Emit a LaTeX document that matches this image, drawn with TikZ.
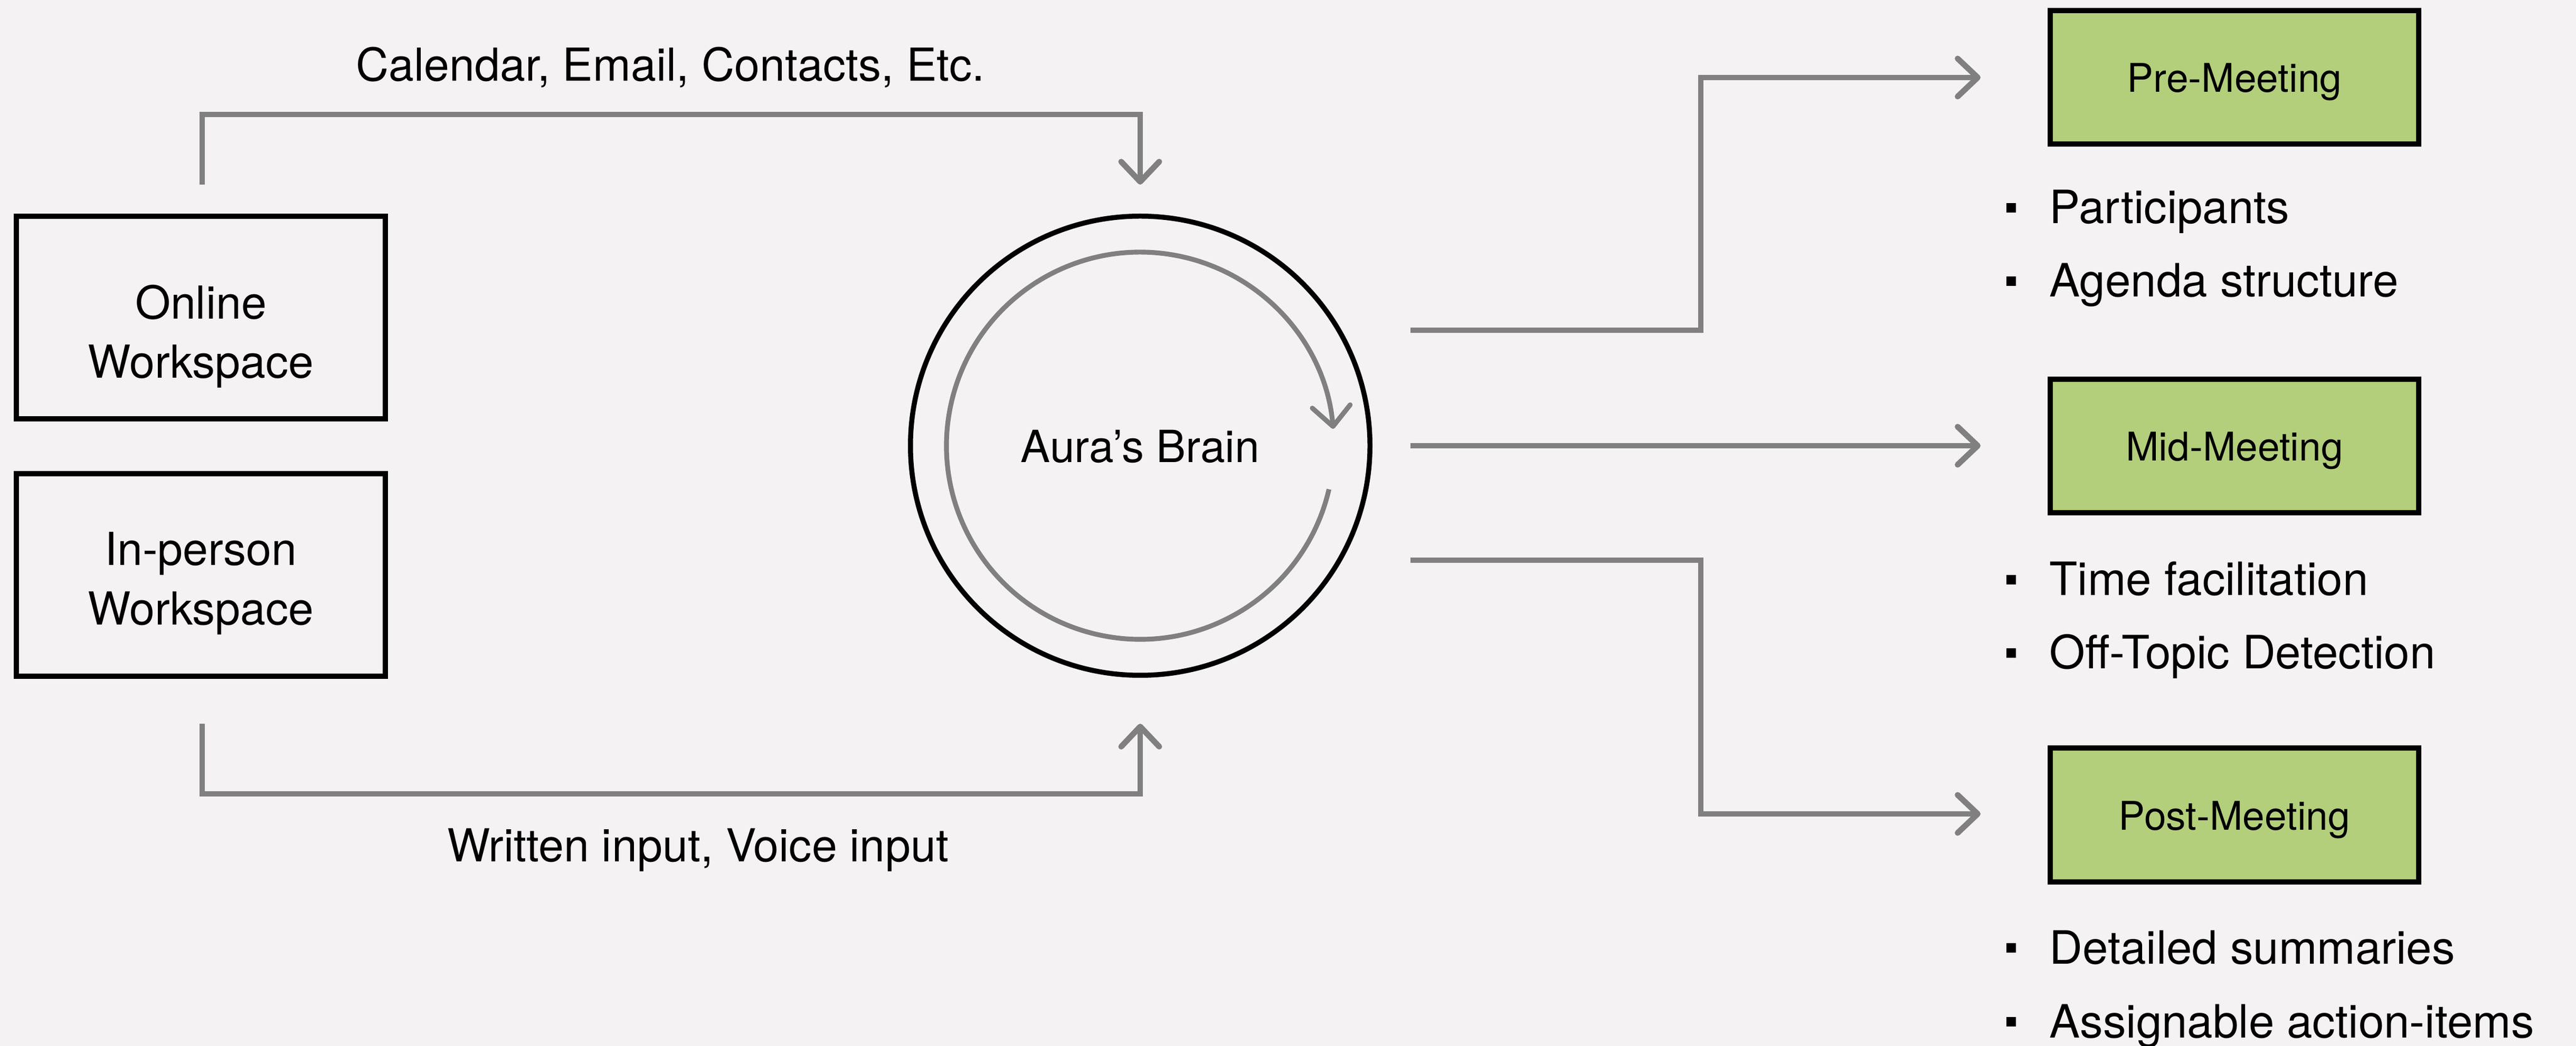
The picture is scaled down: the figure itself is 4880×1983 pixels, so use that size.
\documentclass[tikz,border=0pt]{standalone}
\usepackage{fontspec}
\setmainfont{TeX Gyre Heros}
\usetikzlibrary{arrows.meta}
\definecolor{bgc}{RGB}{244,242,243}
\definecolor{linegray}{RGB}{128,128,128}
\definecolor{boxgreen}{RGB}{179,207,123}
\newcommand\myitem[1]{\rule[0.21cm]{0.18cm}{0.18cm}\hspace{0.64cm}#1}
\begin{document}
\begin{tikzpicture}[x=0.01cm,y=0.01cm,
  wsbox/.style={draw=black, line width=2.85pt, fill=bgc, minimum width=6.99cm, minimum height=3.84cm, inner sep=0pt},
  phasebox/.style={draw=black, line width=2.85pt, fill=boxgreen, minimum width=6.98cm, minimum height=2.53cm, inner sep=0pt, font=\fontsize{21.3}{25}\selectfont, text height=0.56cm, text depth=0pt},
  brainnode/.style={circle, draw=black, line width=2.7pt, minimum size=8.7cm, inner sep=0pt, font=\fontsize{23.9}{28}\selectfont, text height=0.62cm, text depth=0pt},
  lbl/.style={font=\fontsize{24.5}{31.9}\selectfont, align=center, inner sep=0pt},
  tipstyle/.style={-{Straight Barb[length=0.38cm,width=0.72cm,round]}},
  conn/.style={draw=linegray, line width=3.1pt, tipstyle},
  bulletitem/.style={anchor=base west, inner sep=0pt, font=\fontsize{24.75}{30}\selectfont},
]
\useasboundingbox (0,0) rectangle (4880,-1983);
\fill[bgc] (0,0) rectangle (4880,-1983);

% left boxes
\node[wsbox] (online) at (380.5,-602) {};
\node[lbl] (onlineT) at (380.5,-638) {Online\\Workspace};
\node[wsbox] (inperson) at (380.5,-1090) {};
\node[lbl] (inpersonT) at (380.5,-1106) {In-person\\Workspace};

% brain
\node[brainnode] (brain) at (2160,-845) {Aura’s Brain};
\draw[linegray, line width=2.6pt, tipstyle]
  ([shift={(-13:367)}]brain.center) arc[start angle=-13, end angle=-355, radius=367];

% left connectors
\coordinate (tS) at (383,-350);
\coordinate (tE) at (2160,-350);
\draw[conn] (tS) -- ++(0,133) -| (tE);
\node[lbl, anchor=base] (topL) at (1270,-154) {Calendar, Email, Contacts, Etc.};

\coordinate (bS) at (383,-1372);
\coordinate (bE) at (2160,-1372);
\draw[conn] (bS) -- ++(0,-133) -| (bE);
\node[lbl, anchor=base] (botL) at (1322,-1634) {Written input, Voice input};

% phase boxes
\node[phasebox] (pre) at (4233,-146.5) {Pre-Meeting};
\node[phasebox] (mid) at (4233,-845.5) {Mid-Meeting};
\node[phasebox] (post) at (4233,-1545) {Post-Meeting};

% right connectors
\coordinate (r1s) at (2672,-626);
\coordinate (r1e) at (3752,-147);
\draw[conn] (r1s) -- ++(550,0) |- (r1e);
\coordinate (r2s) at (2672,-845);
\coordinate (r2e) at (3752,-845);
\draw[conn] (r2s) -- (r2e);
\coordinate (r3s) at (2672,-1062);
\coordinate (r3e) at (3752,-1543);
\draw[conn] (r3s) -- ++(550,0) |- (r3e);

% bullet lists
\node[bulletitem] (b1) at (3800,-424) {\myitem{Participants}};
\node[bulletitem] (b2) at (3800,-563) {\myitem{Agenda structure}};
\node[bulletitem] (b3) at (3800,-1129) {\myitem{Time facilitation}};
\node[bulletitem] (b4) at (3800,-1268) {\myitem{Off-Topic Detection}};
\node[bulletitem] (b5) at (3800,-1827) {\myitem{Detailed summaries}};
\node[bulletitem] (b6) at (3800,-1967) {\myitem{Assignable action-items}};
\end{tikzpicture}
\end{document}
